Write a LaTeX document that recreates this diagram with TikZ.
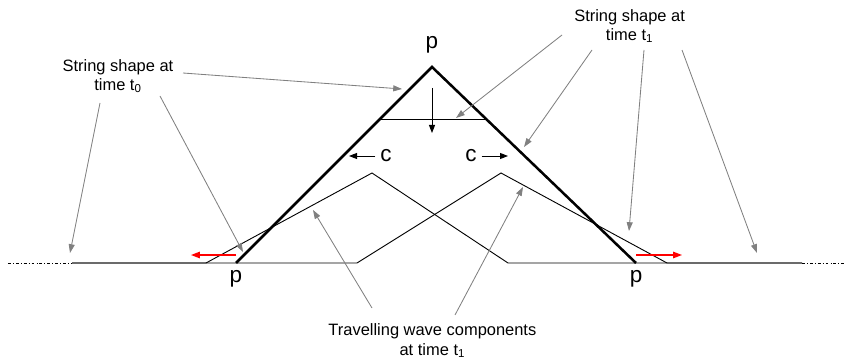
\documentclass[tikz,border=0pt]{standalone}
\usepackage{fontspec}
\setmainfont{Liberation Sans}
\usetikzlibrary{arrows.meta}
\usetikzlibrary{positioning}

\begin{document}
\begin{tikzpicture}[
    string/.style={line width=1.8pt, line join=miter},
    wave/.style={line width=0.65pt},
    ends/.style={line width=0.65pt, dash pattern=on 2pt off 1.5pt on 0.6pt off 1.5pt},
    pointer/.style={gray, line width=0.6pt, -{Triangle[length=2.2mm, width=1.5mm]}},
    motion/.style={line width=0.7pt, -{Triangle[length=2mm, width=1.5mm]}},
    spread/.style={red, line width=0.9pt, -{Triangle[length=2.2mm, width=1.6mm]}},
    note/.style={align=center, font=\fontsize{11.7}{13.6}\selectfont},
    point/.style={font=\fontsize{16}{18}\selectfont, anchor=base, inner sep=0pt},
    speed/.style={font=\fontsize{16}{18}\selectfont}
]

% --- Frame ---
\useasboundingbox (0,0) rectangle (21.125,9);

% --- Key points of the string ---
\coordinate (top) at (10.8,7.325);
\coordinate (footL) at (5.9,2.425);
\coordinate (footR) at (15.9,2.425);
\coordinate (cutL) at (9.5,6.025);
\coordinate (cutR) at (12.15,6.025);
\coordinate (endL) at (1.8,2.425);
\coordinate (endR) at (20.05,2.425);
\coordinate (edgeL) at (0.2,2.425);
\coordinate (edgeR) at (21.125,2.425);

% --- Travelling wave components ---
\draw[wave] (endL) -- (5.15,2.425) -- (9.3,4.675) -- (12.7,2.425) -- (endR);
\draw[wave] (endL) -- (8.925,2.425) -- (12.525,4.675) -- (16.675,2.425) -- (endR);
\draw[ends] (edgeL) -- (endL);
\draw[ends] (endR) -- (edgeR);

% --- String shape at t0 and t1 ---
\draw[string] (footL) -- (top) -- (footR);
\draw[wave] (cutL) -- (cutR);

% --- Labels p ---
\node[point] (pTop) at (10.8,7.775) {p};
\node[point] (pL) at (5.9,1.95) {p};
\node[point] (pR) at (15.9,1.95) {p};

% --- Speed c and motion ---
\node[speed] (cL) at (9.65,5.1) {c};
\node[speed] (cR) at (11.775,5.1) {c};
\coordinate (cLend) at (8.725,5.1);
\coordinate (cRend) at (12.7,5.1);
\draw[motion] (cL.west) -- (cLend);
\draw[motion] (cR.east) -- (cRend);

\coordinate (fall) at (10.8,6.8);
\coordinate (fallEnd) at (10.8,5.675);
\draw[motion] (fall) -- (fallEnd);

% --- Red arrows at the feet ---
\coordinate (runL) at (5.9,2.625);
\coordinate (runLend) at (4.775,2.625);
\coordinate (runR) at (15.9,2.625);
\coordinate (runRend) at (17.05,2.625);
\draw[spread] (runL) -- (runLend);
\draw[spread] (runR) -- (runRend);

% --- Notes ---
\node[note] (shape0) at (2.95,7.1) {String shape at\\time t\textsubscript{0}};
\node[note] (shape1) at (15.74,8.35) {String shape at\\time t\textsubscript{1}};
\node[note] (waves) at (10.81,0.48) {Travelling wave components\\at time t\textsubscript{1}};

% --- Pointers from the notes ---
\coordinate (s0a) at (2.5,6.425);    \coordinate (h0a) at (1.75,2.675);
\coordinate (s0b) at (4.0,6.6);      \coordinate (h0b) at (6.075,2.7);
\coordinate (s0c) at (4.575,7.175);  \coordinate (h0c) at (10.05,6.775);
\coordinate (s1a) at (14.05,8.125);  \coordinate (h1a) at (11.4,6.05);
\coordinate (s1b) at (14.8,7.75);    \coordinate (h1b) at (13.1,5.325);
\coordinate (s1c) at (16.1,7.75);    \coordinate (h1c) at (15.725,3.225);
\coordinate (s1d) at (17.05,7.75);   \coordinate (h1d) at (18.925,2.675);
\coordinate (swa) at (9.3,1.3);      \coordinate (hwa) at (7.825,3.75);
\coordinate (swb) at (11.375,1.125); \coordinate (hwb) at (13.075,4.325);

\foreach \a/\b in {s0a/h0a, s0b/h0b, s0c/h0c, s1a/h1a, s1b/h1b, s1c/h1c, s1d/h1d, swa/hwa, swb/hwb}
    \draw[pointer] (\a) -- (\b);

\end{tikzpicture}
\end{document}
